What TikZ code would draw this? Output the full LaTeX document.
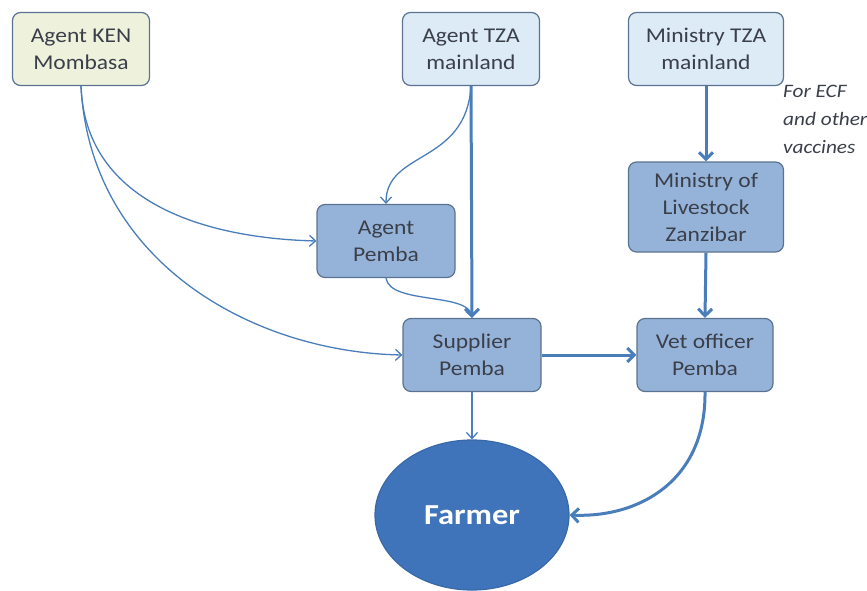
\documentclass[tikz,border=0pt]{standalone}
\usepackage{fontspec}
\setmainfont{Carlito}[FakeStretch=1.12]
\usetikzlibrary{arrows.meta,shapes.geometric}
\definecolor{boxline}{HTML}{5B7390}
\definecolor{lightblue}{HTML}{DDEBF6}
\definecolor{paleyellow}{HTML}{EEF2DD}
\definecolor{midblue}{HTML}{95B3D9}
\definecolor{arrowblue}{HTML}{4A7EBB}
\definecolor{farmerblue}{HTML}{3F74BA}
\definecolor{farmerline}{HTML}{3868A8}
\definecolor{txt}{HTML}{3A3F4A}
\begin{document}
\begin{tikzpicture}[x=1pt,y=-1pt,
  box/.style={draw=boxline, line width=1.2pt, rounded corners=8pt, minimum width=137pt, minimum height=73pt, align=center, font=\fontsize{21}{27}\selectfont, text=txt, inner sep=0pt},
  thinarrow/.style={draw=arrowblue, line width=1.3pt, -{Straight Barb[length=6pt,width=11pt]}},
  thickarrow/.style={draw=arrowblue, line width=3pt, -{Straight Barb[length=7pt,width=14pt]}}]
\useasboundingbox (0,0) rectangle (867,591);

\node[box, fill=paleyellow] (ken) at (81,49) {Agent KEN\\Mombasa};
\node[box, fill=lightblue] (tza) at (471,49) {Agent TZA\\mainland};
\node[box, fill=lightblue, minimum width=155pt] (min) at (706,49) {Ministry TZA\\mainland};
\node[box, fill=midblue, minimum width=155pt, minimum height=90pt] (liv) at (706,207) {Ministry of\\Livestock\\Zanzibar};
\node[box, fill=midblue, minimum width=138pt] (ap) at (386,241) {Agent\\Pemba};
\node[box, fill=midblue, minimum width=138pt] (sup) at (472,355) {Supplier\\Pemba};
\node[box, fill=midblue, minimum width=136pt] (vet) at (705,355) {Vet officer\\Pemba};
\node[ellipse, draw=farmerline, line width=1.2pt, fill=farmerblue, minimum width=194pt, minimum height=150pt, inner sep=0pt, text=white, font=\fontsize{29}{33}\selectfont\bfseries] (farmer) at (472,515) {Farmer};
\node[anchor=west, align=left, inner sep=0pt, text=txt, font=\fontsize{19}{28}\selectfont\itshape] (note) at (783,119) {For ECF\\and other\\vaccines};

% connectors
\draw[thinarrow] (ken.south) .. controls (85,200) and (200,238) .. (ap.west);
\draw[thinarrow] (ken.south) .. controls (90,260) and (250,352) .. (sup.west);
\draw[thinarrow] (tza.south) .. controls (466,165) and (386,150) .. (ap.north);
\draw[thickarrow] (tza.south) -- (sup.north);
\draw[thinarrow] (ap.south) .. controls (390,305) and (470,292) .. (sup.north);
\draw[thickarrow] (min.south) -- (liv.north);
\draw[thickarrow] (liv.south) -- (vet.north);
\draw[thickarrow] (sup.east) -- (vet.west);
\draw[thinarrow] (sup.south) -- (farmer.north);
\draw[thickarrow] (vet.south) .. controls (706,480) and (640,518) .. (farmer.east);
\end{tikzpicture}
\end{document}
